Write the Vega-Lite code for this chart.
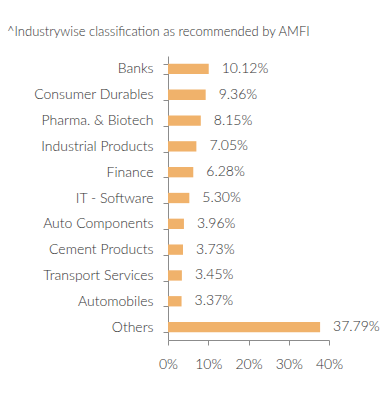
{
  "$schema": "https://vega.github.io/schema/vega-lite/v6.json",
  "autosize": "none",
  "width": 161,
  "height": 284,
  "padding": {"left": 168, "top": 56, "right": 62, "bottom": 76},
  "background": "white",
  "title": {
    "text": "^Industrywise classification as recommended by AMFI",
    "anchor": "start",
    "frame": "group",
    "dx": -161,
    "offset": 10,
    "font": "Lato",
    "fontSize": 13,
    "fontWeight": 300,
    "color": "#333333"
  },
  "data": {
    "values": [
      {"industry": "Banks", "pct": 10.12, "label": "10.12%"},
      {"industry": "Consumer Durables", "pct": 9.36, "label": "9.36%"},
      {"industry": "Pharma. & Biotech", "pct": 8.15, "label": "8.15%"},
      {"industry": "Industrial Products", "pct": 7.05, "label": "7.05%"},
      {"industry": "Finance", "pct": 6.28, "label": "6.28%"},
      {"industry": "IT - Software", "pct": 5.30, "label": "5.30%"},
      {"industry": "Auto Components", "pct": 3.96, "label": "3.96%"},
      {"industry": "Cement Products", "pct": 3.73, "label": "3.73%"},
      {"industry": "Transport Services", "pct": 3.45, "label": "3.45%"},
      {"industry": "Automobiles", "pct": 3.37, "label": "3.37%"},
      {"industry": "Others", "pct": 37.79, "label": "37.79%"}
    ]
  },
  "encoding": {
    "y": {
      "field": "industry",
      "type": "nominal",
      "sort": null,
      "scale": {"paddingInner": 0.6, "paddingOuter": 0.3},
      "axis": {
        "title": null,
        "tickBand": "extent",
        "tickSize": 5,
        "tickColor": "#8c8c8c",
        "domainColor": "#8c8c8c",
        "labelFont": "Lato",
        "labelFontSize": 14,
        "labelFontWeight": 300,
        "labelColor": "#333333",
        "labelPadding": 10
      }
    },
    "x": {
      "field": "pct",
      "type": "quantitative",
      "scale": {"domain": [0, 40], "nice": false},
      "axis": {
        "title": null,
        "grid": false,
        "values": [0, 10, 20, 30, 40],
        "labelOverlap": false,
        "labelFlush": false,
        "labelExpr": "datum.value + '%'",
        "tickSize": 5,
        "tickColor": "#8c8c8c",
        "domainColor": "#8c8c8c",
        "labelFont": "Lato",
        "labelFontSize": 14,
        "labelFontWeight": 300,
        "labelColor": "#333333",
        "labelPadding": 12
      }
    }
  },
  "layer": [
    {"mark": {"type": "bar", "color": "#F0B26B"}},
    {
      "mark": {"type": "text", "align": "left", "dx": 13, "font": "Lato", "fontSize": 14, "fontWeight": 300, "color": "#333333"},
      "encoding": {"text": {"field": "label"}}
    }
  ],
  "config": {"view": {"stroke": null}}
}
